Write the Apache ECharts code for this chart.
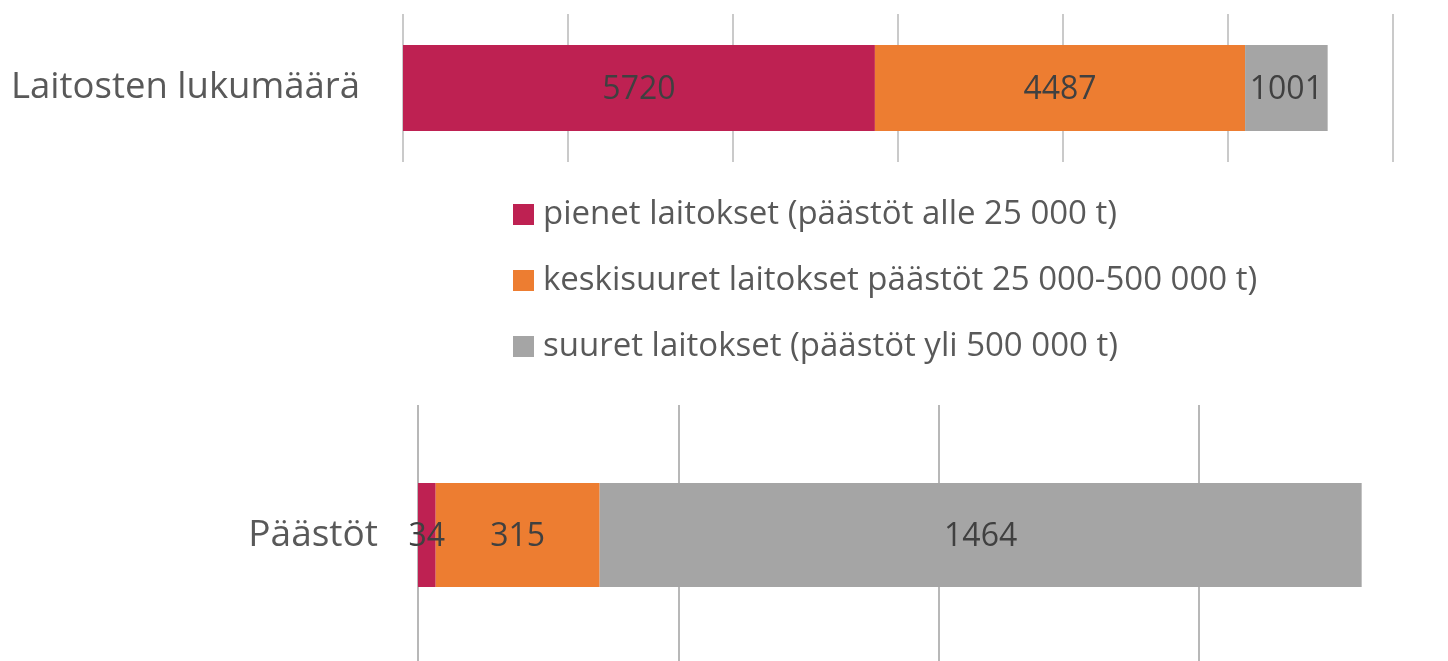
<!DOCTYPE html>
<html>
<head>
<meta charset="utf-8">
<script src="https://cdn.jsdelivr.net/npm/echarts@6/dist/echarts.min.js"></script>
<style>
  html, body { margin: 0; padding: 0; background: #fff; }
  #main { width: 1448px; height: 661px; }
</style>
</head>
<body>
<div id="main"></div>
<script>
// sarjojen nimet (selite)
var seriesNames = [
  "pienet laitokset (päästöt alle 25 000 t)",
  "keskisuuret laitokset päästöt 25 000-500 000 t)",
  "suuret laitokset (päästöt yli 500 000 t)"
];
var seriesColors = ["#BE2152", "#ED7D31", "#A5A5A5"];

// ylempi kaavio: laitosten lukumäärä
var topCategory = ["Laitosten lukumäärä"];
var topValues = [5720, 4487, 1001];

// alempi kaavio: päästöt
var bottomCategory = ["Päästöt"];
var bottomValues = [34, 315, 1464];

var FONT = "Open Sans";

var chart = echarts.init(document.getElementById("main"));

//rakennetaan sarjat
function buildSeries(values, axisIndex) {
  var arr = [];
  values.forEach(function (v, i) {
    arr.push({
      name: seriesNames[i],
      type: "bar",
      stack: "s" + axisIndex,
      xAxisIndex: axisIndex,
      yAxisIndex: axisIndex,
      barWidth: axisIndex == 0 ? 86 : 104,
      itemStyle: { color: seriesColors[i] },
      label: {
        show: true,
        position: "inside",
        offset: [0, 2],
        color: "#404040",
        fontFamily: FONT,
        fontSize: 32
      },
      data: [v]
    });
  });
  return arr;
}

var option = {
  animation: false,
  backgroundColor: "#fff",
  legend: {
    orient: "vertical",
    left: 508,
    top: 193,
    itemWidth: 21,
    itemHeight: 21,
    itemGap: 33,
    icon: "rect",
    data: seriesNames,
    textStyle: {
      color: "#595959",
      fontFamily: FONT,
      fontSize: 33,
      padding: [0, 0, 0, 4]
    }
  },
  grid: [
    { left: 403, width: 990, top: 14, height: 148, outerBoundsMode: "none" },
    { left: 418, width: 1041, top: 405, height: 260, outerBoundsMode: "none" }
  ],
  xAxis: [
    {
      gridIndex: 0,
      type: "value",
      min: 0,
      max: 12000,
      interval: 2000,
      axisLabel: { show: false },
      axisLine: { show: false },
      axisTick: { show: false },
      splitLine: { show: true, lineStyle: { color: "#CACACA", width: 2 } }
    },
    {
      gridIndex: 1,
      type: "value",
      min: 0,
      max: 2000,
      interval: 500,
      axisLabel: { show: false },
      axisLine: { show: false },
      axisTick: { show: false },
      splitLine: { show: true, lineStyle: { color: "#B8B8B8", width: 2 } }
    }
  ],
  yAxis: [
    {
      gridIndex: 0,
      type: "category",
      data: topCategory,
      axisLine: { show: false },
      axisTick: { show: false },
      axisLabel: { color: "#595959", fontFamily: FONT, fontSize: 36.5, margin: 43 }
    },
    {
      gridIndex: 1,
      type: "category",
      data: bottomCategory,
      axisLine: { show: false },
      axisTick: { show: false },
      axisLabel: { color: "#595959", fontFamily: FONT, fontSize: 37, margin: 40 }
    }
  ],
  series: buildSeries(topValues, 0).concat(buildSeries(bottomValues, 1))
};

chart.setOption(option);
</script>
</body>
</html>
